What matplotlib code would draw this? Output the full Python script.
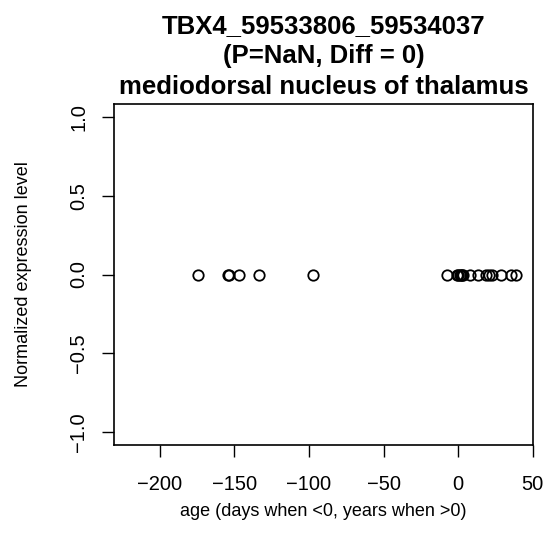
import numpy as np
import matplotlib.pyplot as plt

plt.rcParams['font.family'] = ['Liberation Sans', 'DejaVu Sans']

# age values (days when <0, years when >0)
age = [-174.3, -154.5, -153.5, -147, -133.4, -97.6,
       -7.8, -0.8, 0.2, 1.0, 1.8, 2.6, 3.5, 8, 13, 18.5, 20.5, 22.5, 29, 35.5, 39]
expr = [0.0] * len(age)

xticks = [-200, -150, -100, -50, 0, 50]
yticks = [-1.0, -0.5, 0.0, 0.5, 1.0]

W, H = 547, 555
fig = plt.figure(figsize=(W / 100, H / 100), dpi=100)
# plot box in pixels: x 114..533, y 104..445
ax = fig.add_axes([114 / W, 1 - 445 / H, (533 - 114) / W, (445 - 104) / H])

ax.plot(age, expr, 'o', markerfacecolor='none', markeredgecolor='black',
        markersize=7.5, markeredgewidth=1.3)

ax.set_xlim(-230.8, 50.2)
ax.set_ylim(-1.08, 1.08)
ax.set_xticks(xticks)
ax.set_xticklabels(['\u2212200', '\u2212150', '\u2212100', '\u221250', '0', '50'])
ax.set_yticks(yticks)
ax.set_yticklabels(['\u22121.0', '\u22120.5', '0.0', '0.5', '1.0'], rotation=90, va='center')
ax.tick_params(length=8.5, width=1, labelsize=14.5)
ax.tick_params(axis='x', pad=13)
ax.tick_params(axis='y', pad=10)
for s in ax.spines.values():
    s.set_linewidth(1.2)

ax.set_xlabel('age (days when <0, years when >0)', fontsize=13, va='center')
ax.xaxis.set_label_coords(0.5, -(512 - 445) / 341)
ax.set_ylabel('Normalized expression level', fontsize=13, va='center')
ax.yaxis.set_label_coords(-(114 - 24) / 419, 0.5)
ax.set_title('TBX4_59533806_59534037\n(P=NaN, Diff = 0)\nmediodorsal nucleus of thalamus',
             fontsize=18.5, fontweight='bold', linespacing=1.36, pad=7)

fig.savefig('out.png', dpi=100)
